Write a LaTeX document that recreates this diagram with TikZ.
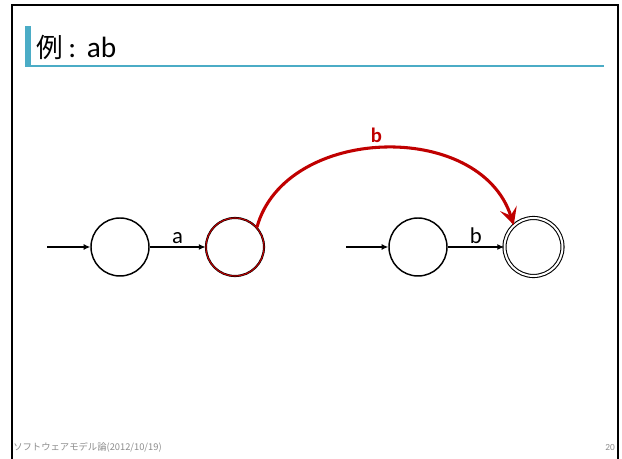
\documentclass[tikz,border=0pt]{standalone}
\usepackage{fontspec}
\setmainfont{Carlito}
\newfontfamily\jpfont{Noto Sans CJK JP}
\usetikzlibrary{arrows.meta}
\definecolor{titleblue}{HTML}{4BACC6}
\definecolor{darkred}{HTML}{C00000}
\definecolor{footgray}{HTML}{8C8C8C}

\tikzset{
  state/.style={circle,draw,line width=1.1pt,minimum size=43.5pt,inner sep=0pt},
  accept/.style={state,double,double distance=1.5pt,line width=0.8pt},
  redstate/.style={state,draw=darkred,line width=0.8pt,preaction={draw=black,line width=1.6pt}},
  trans/.style={-{Latex[length=5pt,width=4.5pt]},line width=0.8pt},
  lbl/.style={font=\fontsize{17}{17}\selectfont,inner sep=2pt}
}

\begin{document}
\begin{tikzpicture}[x=0.75pt,y=-0.75pt]
\useasboundingbox (0,0) rectangle (622,459) ;

% frame and title
\draw[line width=1.9pt] (12,459) -- (12,5) -- (618,5) -- (618,459) ;
\fill[titleblue] (25,26) rectangle (31,67) ;
\fill[titleblue] (25,65.5) rectangle (604,67.5) ;
\node[anchor=base west,inner sep=0pt] (title) at (36,58)
  {\fontsize{20}{20}\selectfont\jpfont 例\fontsize{22}{22}\selectfont\rmfamily\kern4pt:\kern8pt ab} ;

% first automaton
\coordinate (s1) at (47,247) ;
\node[state] (q1) at (120,247) {} ;
\node[redstate] (q2) at (235,247) {} ;
\draw[trans] (s1) -- (q1) ;
\draw[trans] (q1) -- (q2) node [midway, above, lbl] {a} ;

% second automaton
\coordinate (s3) at (346,247) ;
\node[state] (q3) at (418,247) {} ;
\node[accept] (q4) at (533.5,247) {} ;
\draw[trans] (s3) -- (q3) ;
\draw[trans] (q3) -- (q4) node [midway, above, lbl] {b} ;

% joining edge
\draw[-{Stealth[length=13pt,width=13pt,inset=5.5pt]},darkred,line width=2.3pt]
  (q2.42) .. controls +(28,-102) and +(-34,-106) .. (q4.132)
  node [pos=0.48, above, inner sep=3pt, font=\fontsize{15.5}{15.5}\selectfont\bfseries] {b} ;

% footer
\node[anchor=base west,inner sep=0pt,text=footgray] (foot) at (13,451)
  {\fontsize{7}{7}\selectfont\jpfont ソフトウェアモデル論(2012/10/19)} ;
\node[anchor=base east,inner sep=0pt,text=footgray] (page) at (615,451)
  {\fontsize{7}{7}\selectfont 20} ;
\end{tikzpicture}
\end{document}
